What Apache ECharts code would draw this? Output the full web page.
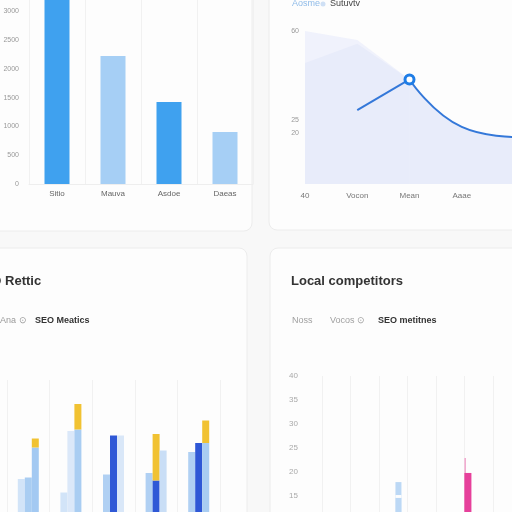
<!DOCTYPE html>
<html>
<head>
<meta charset="utf-8">
<script src="https://cdn.jsdelivr.net/npm/echarts@6/dist/echarts.min.js"></script>
<style>
    html, body {margin: 0; padding: 0; background: #f8f8f8;}
    #main {width: 512px; height: 512px;}
</style>
</head>
<body>
<div id="main"></div>
<script>
// top left: single bars
var tlCats = ['Sitio', 'Mauva', 'Asdoe', 'Daeas'];
var tlValues = [3300, 2226, 1426, 904];
var tlColors = ['#3fa1ef', '#a6cff5', '#3fa1ef', '#a6cff5'];

// top right: area + line (straight rise, smooth fall)
var trCats = ['40', 'Vocon', 'Mean', 'Aaae', ''];
var trAreaHigh = [60, 56.5, 41, null, null];
var trAreaLow = [47.5, 55, 41, null, null];
var trRise = [null, 29, 41, null, null];
var trFall = [null, null, 41, 22.4, 18.4];
var trShown = [60, 25, 20];

// bottom left: grouped bars
var blCats = ['A', 'B', 'C', 'D', 'E'];
var blLeft = [34, 25, 37, 38, 52];
var blMid = [35, 66, 63, 33, 58];
var blRight = [55, 67, 63, 53, 58];
var blCapMid = [0, 0, 0, 31, 0];
var blCapRight = [6, 17, 0, 0, 15];
var blLeftColors = ['#d2e4f8', '#d2e4f8', '#b0d0f3', '#b0d0f3', '#b0d0f3'];
var blMidColors = ['#a9cdf2', '#dbe8f9', '#2f58d6', '#2f58d6', '#2f58d6'];
var blRightColors = ['#a3c9f2', '#a9cdf2', '#d9e7f8', '#c9def6', '#a9cdf2'];

// bottom right: sparse bars, [x, value]
var brBlueTop = [[2.7, 17.9]];
var brBlueCut = [[2.7, 15.2]];
var brBlueLow = [[2.7, 14.6]];
var brWhisker = [[5.12, 22.9]];
var brPink = [[5.12, 19.8]];

var chart = echarts.init(document.getElementById('main'));

function card(x, y, w, h) {
    return {
        type: 'rect', z: -10,
        shape: {x: x, y: y, width: w, height: h, r: 8},
        style: {fill: '#fdfdfd', stroke: '#ececec', lineWidth: 1}
    };
}
function txt(x, y, s, color, size, weight) {
    return {
        type: 'text', z: 10, x: x, y: y,
        style: {text: s, fill: color, font: (weight || 'normal') + ' ' + size + 'px "Liberation Sans", Arial, sans-serif', verticalAlign: 'middle'}
    };
}

var faint = {show: true, lineStyle: {color: '#f1f1f1'}};

var option = {
    backgroundColor: '#f8f8f8',
    animation: false,
    graphic: [
        card(-10, -10, 262, 241),
        card(269, -10, 253, 240),
        card(-10, 248, 257, 274),
        card(270, 248, 252, 274),
        txt(292, 4, 'Aosme', '#8fbbe8', 9),
        {type: 'circle', z: 10, shape: {cx: 323, cy: 4, r: 2.5}, style: {fill: '#cfe0f5'}},
        txt(330, 4, 'Sutuvtv', '#444', 9),
        txt(-26, 281, 'SEO Rettic', '#333', 13, 'bold'),
        txt(0, 321, 'Ana ⊙', '#9a9a9a', 9),
        txt(35, 321, 'SEO Meatics', '#333', 9, 'bold'),
        txt(291, 281, 'Local competitors', '#333', 13, 'bold'),
        txt(292, 321, 'Noss', '#a0a0a0', 9),
        txt(330, 321, 'Vocos ⊙', '#a0a0a0', 9),
        txt(378, 321, 'SEO metitnes', '#333', 9, 'bold')
    ],
    grid: [
        {left: 29, top: 0, width: 224, height: 184, outerBoundsMode: 'none'},
        {left: 305, top: 31, width: 209, height: 153, outerBoundsMode: 'none'},
        {left: 7, top: 380, width: 213, height: 150, outerBoundsMode: 'none'},
        {left: 322, top: 376, width: 171, height: 144, outerBoundsMode: 'none'}
    ],
    xAxis: [
        {gridIndex: 0, type: 'category', data: tlCats, axisTick: {show: false},
            axisLine: {lineStyle: {color: '#eeeeee'}}, splitLine: faint,
            axisLabel: {color: '#666', fontSize: 8, margin: 6}},
        {gridIndex: 1, type: 'category', data: trCats, boundaryGap: false, axisTick: {show: false},
            axisLine: {show: false}, splitLine: {show: false},
            axisLabel: {color: '#777', fontSize: 8, margin: 8}},
        {gridIndex: 2, type: 'category', data: blCats, axisTick: {show: false},
            axisLine: {show: false}, splitLine: faint, axisLabel: {show: false}},
        {gridIndex: 3, type: 'value', min: 0, max: 6, interval: 1, axisTick: {show: false},
            axisLine: {show: false}, splitLine: faint, axisLabel: {show: false}}
    ],
    yAxis: [
        {gridIndex: 0, type: 'value', min: 0, max: 3200, interval: 500, splitLine: {show: false},
            axisLabel: {color: '#999', fontSize: 7, margin: 10, showMaxLabel: false,
                formatter: function (v) { return String(v); }}},
        {gridIndex: 1, type: 'value', min: 0, max: 60, interval: 5, splitLine: {show: false},
            axisLabel: {color: '#999', fontSize: 7, margin: 6, formatter: function (v) {
                return trShown.indexOf(v) >= 0 ? String(v) : '';
            }}},
        {gridIndex: 2, type: 'value', min: 0, max: 100, show: false},
        {gridIndex: 3, type: 'value', min: 10, max: 40, interval: 5, splitLine: {show: false},
            axisLine: {show: false}, axisTick: {show: false},
            axisLabel: {color: '#aaa', fontSize: 8, margin: 24}}
    ],
    series: [
        {type: 'bar', xAxisIndex: 0, yAxisIndex: 0, barWidth: 25,
            data: tlValues.map(function (v, i) {
                return {value: v, itemStyle: {color: tlColors[i]}};
            })},

        {type: 'line', xAxisIndex: 1, yAxisIndex: 1, data: trAreaHigh, symbol: 'none',
            lineStyle: {width: 0}, areaStyle: {color: '#f0f2fc', opacity: 1}, z: 1},
        {type: 'line', xAxisIndex: 1, yAxisIndex: 1, data: trAreaLow, symbol: 'none',
            lineStyle: {width: 0}, areaStyle: {color: '#e8ecfa', opacity: 1}, z: 1},
        {type: 'line', xAxisIndex: 1, yAxisIndex: 1, data: trRise, symbol: 'none',
            lineStyle: {color: '#3478d9', width: 2}, areaStyle: {color: '#e8ecfa', opacity: 1}, z: 3},
        {type: 'line', xAxisIndex: 1, yAxisIndex: 1, smooth: 0.5, symbol: 'none', showSymbol: true,
            lineStyle: {color: '#3478d9', width: 2},
            areaStyle: {color: '#e8ecfa', opacity: 1},
            data: trFall.map(function (v, i) {
                if (i === 2) {
                    return {value: v, symbol: 'circle', symbolSize: 9,
                        itemStyle: {color: '#ffffff', borderColor: '#1f7de6', borderWidth: 3}};
                }
                return v;
            }), z: 4},

        {type: 'bar', xAxisIndex: 2, yAxisIndex: 2, barWidth: 7, barGap: '0%',
            data: blLeft.map(function (v, i) {
                return {value: v, itemStyle: {color: blLeftColors[i]}};
            })},
        {type: 'bar', xAxisIndex: 2, yAxisIndex: 2, barWidth: 7, barGap: '0%', stack: 'mid',
            data: blMid.map(function (v, i) {
                return {value: v, itemStyle: {color: blMidColors[i]}};
            })},
        {type: 'bar', xAxisIndex: 2, yAxisIndex: 2, barWidth: 7, barGap: '0%', stack: 'mid',
            data: blCapMid, itemStyle: {color: '#f1c232'}},
        {type: 'bar', xAxisIndex: 2, yAxisIndex: 2, barWidth: 7, barGap: '0%', stack: 'right',
            data: blRight.map(function (v, i) {
                return {value: v, itemStyle: {color: blRightColors[i]}};
            })},
        {type: 'bar', xAxisIndex: 2, yAxisIndex: 2, barWidth: 7, barGap: '0%', stack: 'right',
            data: blCapRight, itemStyle: {color: '#f1c232'}},

        // blue column with a thin cut: full height, then a card-coloured cut, then the lower part
        {type: 'bar', xAxisIndex: 3, yAxisIndex: 3, barWidth: 6, barGap: '-100%',
            data: brBlueTop, itemStyle: {color: '#bcd8f5'}},
        {type: 'bar', xAxisIndex: 3, yAxisIndex: 3, barWidth: 6, barGap: '-100%',
            data: brBlueCut, itemStyle: {color: '#fdfdfd'}},
        {type: 'bar', xAxisIndex: 3, yAxisIndex: 3, barWidth: 6, barGap: '-100%',
            data: brBlueLow, itemStyle: {color: '#bcd8f5'}},
        {type: 'bar', xAxisIndex: 3, yAxisIndex: 3, barWidth: 1.5, barGap: '-100%',
            data: brWhisker, itemStyle: {color: '#f0a5cc'}},
        {type: 'bar', xAxisIndex: 3, yAxisIndex: 3, barWidth: 7, barGap: '-100%',
            data: brPink, itemStyle: {color: '#e6409b'}}
    ]
};
chart.setOption(option);
</script>
</body>
</html>
